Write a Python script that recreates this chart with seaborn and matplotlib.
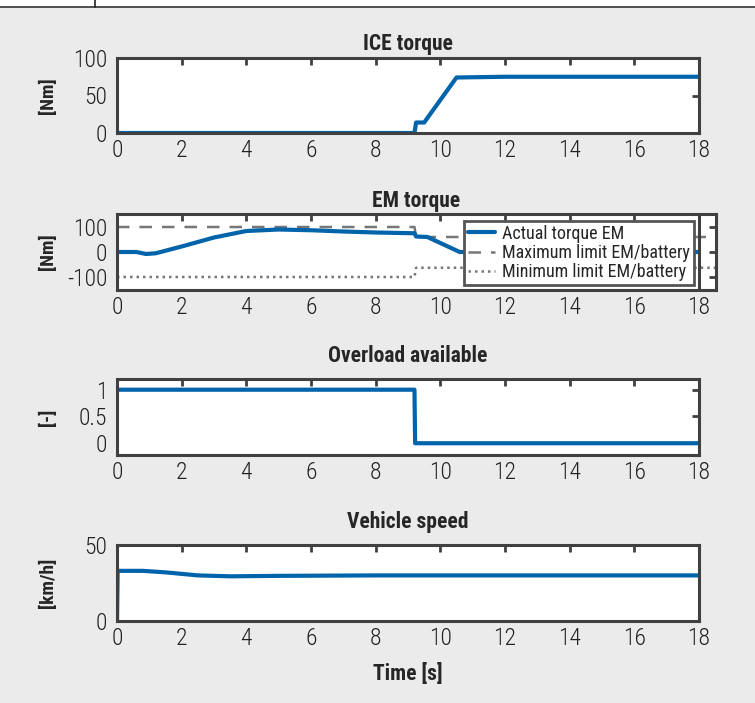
import matplotlib
matplotlib.use("Agg")
import matplotlib.pyplot as plt
from matplotlib import font_manager
import seaborn as sns
import pandas as pd
from matplotlib.lines import Line2D
from matplotlib.patches import Rectangle

# Data
t_ice = [0, 9.2, 9.25, 9.5, 10.5, 12, 18]
ice_torque = [0, 0, 14, 14, 74, 75, 75]

t_em = [0, 0.6, 0.9, 1.2, 2, 3, 4, 5, 6, 7, 8, 9.2, 9.25, 9.6, 10.6, 18]
em_torque = [0, 0, -8, -5, 22, 58, 84, 90, 87, 82, 78, 75, 62, 60, 0, 0]
t_lim = [0, 9.2, 9.25, 18.6]
em_max = [100, 100, 60, 60]
em_min = [-100, -100, -63, -63]

t_ovl = [0, 9.2, 9.22, 18]
overload = [1, 1, 0, 0]

t_spd = [0, 0.02, 0.8, 1.5, 2.5, 3.5, 5, 8, 18]
speed = [0, 33, 33, 32, 30, 29.4, 29.7, 30, 30]

xticks = [0, 2, 4, 6, 8, 10, 12, 14, 16, 18]

sns.set_style("white")
installed = {f.name for f in font_manager.fontManager.ttflist}
narrow = [f for f in ["Liberation Sans Narrow", "DejaVu Sans Condensed", "Roboto Condensed",
                      "Liberation Sans"] if f in installed]
plt.rcParams['font.family'] = narrow[:1] + ['DejaVu Sans']
plt.rcParams['axes.unicode_minus'] = False

blue = "#0064ab"
dark = "#404040"
W, H = 755, 703
fig = plt.figure(figsize=(W / 100, H / 100), dpi=100, facecolor="#ebebeb")


def px_axes(left, top, right, bottom):
    return fig.add_axes([left / W, 1 - bottom / H, (right - left) / W, (bottom - top) / H])


def style(ax, title, ylabel, pad, width_px=582):
    ax.set_facecolor("white")
    for s in ax.spines.values():
        s.set_color(dark)
        s.set_linewidth(2.2)
        s.set_visible(True)
    ax.tick_params(direction="in", length=5, width=2, color=dark, top=True, right=True,
                   labelsize=17, labelcolor="#222222", pad=4)
    ax.tick_params(axis="y", pad=7)
    ax.set_xticks(xticks)
    for lab in ax.get_xticklabels() + ax.get_yticklabels():
        lab.set_fontweight("light")
    ax.set_title(title, fontsize=15.5, fontweight="bold", pad=pad)
    ax.set_ylabel(ylabel, fontsize=14, fontweight="bold")
    ax.yaxis.set_label_coords(-(117 - 57) / width_px, 0.5)
    ax.set_xlabel("")


# Header strip
fig.patches.append(Rectangle((0, 1 - 7 / H), 1, 7 / H, transform=fig.transFigure,
                             facecolor="white", edgecolor="none"))
fig.lines.append(Line2D([0, 1], [1 - 7 / H, 1 - 7 / H], transform=fig.transFigure, color="#333333", lw=1.2))
fig.lines.append(Line2D([95 / W, 95 / W], [1 - 7 / H, 1], transform=fig.transFigure, color="#222222", lw=1.2))

# ICE torque
ax1 = px_axes(117, 58, 699, 133)
sns.lineplot(x=t_ice, y=ice_torque, ax=ax1, color=blue, lw=3)
ax1.set_xlim(0, 18)
ax1.set_ylim(0, 100)
ax1.set_yticks([0, 50, 100])
style(ax1, "ICE torque", "[Nm]", 6)

# EM torque (box extends past 18 like the original)
ax2 = px_axes(117, 214, 716, 290)
df_em = pd.DataFrame({"t": t_em, "v": em_torque})
df_lim = pd.DataFrame({"t": t_lim, "max": em_max, "min": em_min})
sns.lineplot(data=df_lim, x="t", y="max", ax=ax2, color="#777777", lw=1.8,
             linestyle=(0, (5, 4)), label="Maximum limit EM/battery")
sns.lineplot(data=df_lim, x="t", y="min", ax=ax2, color="#777777", lw=1.8,
             linestyle=(0, (1, 1.6)), label="Minimum limit EM/battery")
sns.lineplot(data=df_em, x="t", y="v", ax=ax2, color=blue, lw=3, label="Actual torque EM")
ax2.axvline(18, color=dark, lw=2.2)
ax2.set_xlim(0, 18 * 599 / 582)
ax2.set_ylim(-152, 152)
ax2.set_yticks([-100, 0, 100])
style(ax2, "EM torque", "[Nm]", 5, width_px=599)
handles, labels = ax2.get_legend_handles_labels()
order = [2, 0, 1]
leg = ax2.legend([handles[i] for i in order], [labels[i] for i in order], loc="upper right",
                 bbox_to_anchor=(0.963, 0.91), borderaxespad=0, fancybox=False, framealpha=1,
                 prop={"size": 13}, handlelength=1.5, labelspacing=0.06, borderpad=0.22,
                 handletextpad=0.4)
leg.get_frame().set_edgecolor("#555555")
leg.get_frame().set_linewidth(2)

# Overload available
ax3 = px_axes(117, 379, 699, 455)
sns.lineplot(x=t_ovl, y=overload, ax=ax3, color=blue, lw=3)
ax3.set_xlim(0, 18)
ax3.set_ylim(-0.22, 1.2)
ax3.set_yticks([0, 0.5, 1])
ax3.set_yticklabels(["0", "0.5", "1"])
style(ax3, "Overload available", "[-]", 12)

# Vehicle speed
ax4 = px_axes(117, 545, 699, 621)
sns.lineplot(x=t_spd, y=speed, ax=ax4, color=blue, lw=3)
ax4.set_xlim(0, 18)
ax4.set_ylim(0, 50)
ax4.set_yticks([0, 50])
style(ax4, "Vehicle speed", "[km/h]", 12)
ax4.set_xlabel("Time [s]", fontsize=15.5, fontweight="bold", labelpad=10)

fig.savefig("out.png", dpi=100, facecolor=fig.get_facecolor())
